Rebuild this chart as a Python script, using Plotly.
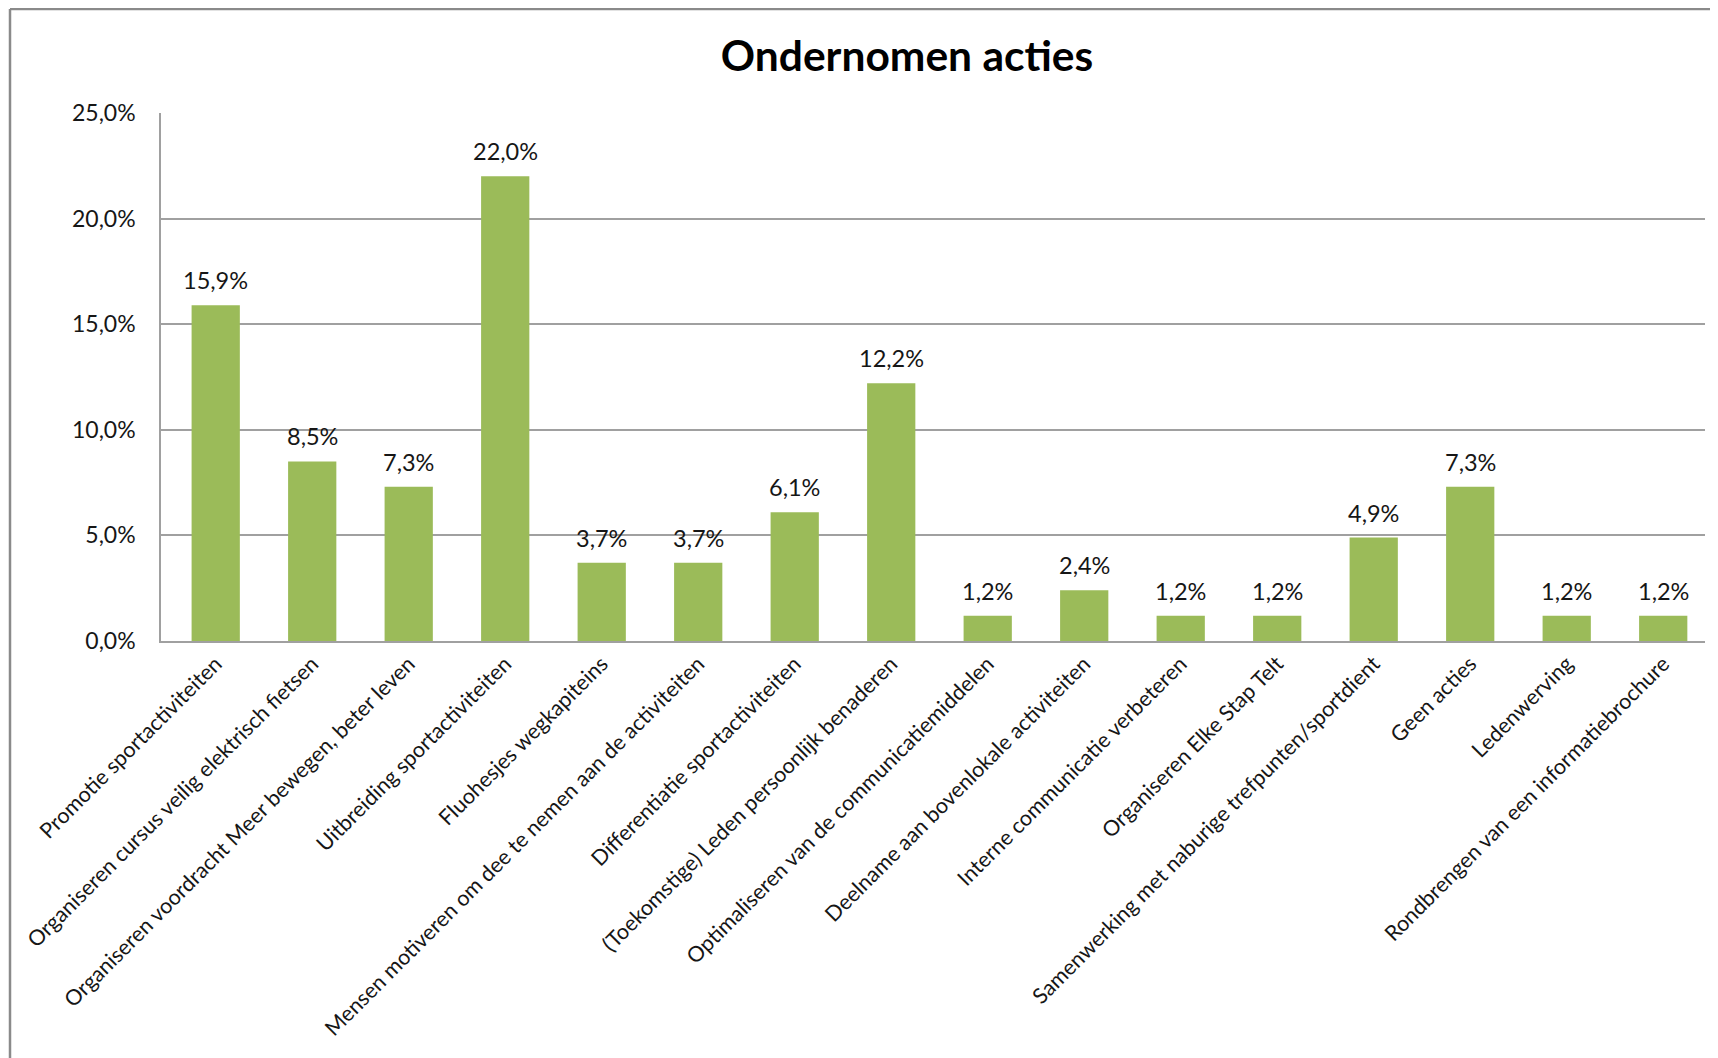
import plotly.graph_objects as go

categories = [
    "Promotie sportactiviteiten",
    "Organiseren cursus veilig elektrisch fietsen",
    "Organiseren voordracht Meer bewegen, beter leven",
    "Uitbreiding sportactiviteiten",
    "Fluohesjes wegkapiteins",
    "Mensen motiveren om dee te nemen aan de activiteiten",
    "Differentiatie sportactiviteiten",
    "(Toekomstige) Leden persoonlijk benaderen",
    "Optimaliseren van de communicatiemiddelen",
    "Deelname aan bovenlokale activiteiten",
    "Interne communicatie verbeteren",
    "Organiseren Elke Stap Telt",
    "Samenwerking met naburige trefpunten/sportdient",
    "Geen acties",
    "Ledenwerving",
    "Rondbrengen van een informatiebrochure",
]
values = [15.9, 8.5, 7.3, 22.0, 3.7, 3.7, 6.1, 12.2, 1.2, 2.4, 1.2, 1.2, 4.9, 7.3, 1.2, 1.2]
value_labels = [f"{v:.1f}%".replace(".", ",") for v in values]
y_ticks = [0, 5, 10, 15, 20, 25]
y_tick_labels = [f"{v:.1f}%".replace(".", ",") for v in y_ticks]

W, H = 1710, 1050
ml, mr, mt, mb = 153, 13, 105, 417
pw, ph = W - ml - mr, H - mt - mb

font_family = "Lato, 'Open Sans', sans-serif"
txt_color = "#161616"

fig = go.Figure(go.Bar(
    x=categories, y=values,
    marker=dict(color="#9BBB59", line=dict(width=0)),
    hoverinfo="x+y",
))

for c, v, t in zip(categories, values, value_labels):
    fig.add_annotation(x=c, y=v, text=t, showarrow=False, yanchor="bottom",
                       yshift=9, font=dict(size=23.5, color=txt_color, family=font_family))

fig.update_layout(
    width=W, height=H,
    margin=dict(l=ml, r=mr, t=mt, b=mb, autoexpand=False),
    paper_bgcolor="white", plot_bgcolor="white",
    bargap=0.50,
    showlegend=False,
    title=dict(text="<b>Ondernomen acties</b>", x=899 / W, xanchor="center",
               xref="container", y=1 - 48 / H, yanchor="middle", yref="container",
               font=dict(size=42.5, color="black", family=font_family)),
    font=dict(family=font_family, color=txt_color),
)
fig.update_yaxes(
    range=[0, 25], tickvals=y_ticks, ticktext=y_tick_labels,
    showgrid=True, gridcolor="#a0a0a0", gridwidth=1.5,
    showline=True, linecolor="#a0a0a0", linewidth=1.5,
    ticks="", ticklabelstandoff=19,
    tickfont=dict(size=23, color=txt_color),
    zeroline=False,
)
fig.update_xaxes(
    range=[-0.567, len(categories) - 0.567],
    showline=True, linecolor="#a0a0a0", linewidth=1.5,
    ticks="", tickangle=-45,
    tickfont=dict(size=21.5, color=txt_color),
)

# outer chart border (left and top visible)
x0 = (2 - ml) / pw
y1 = 1 + (mt - 1) / ph
fig.add_shape(type="line", xref="paper", yref="paper", x0=x0, x1=x0, y0=-2, y1=y1,
              line=dict(color="#8a8a8a", width=2.5))
fig.add_shape(type="line", xref="paper", yref="paper", x0=x0, x1=1.2, y0=y1, y1=y1,
              line=dict(color="#8a8a8a", width=2.5))

fig.write_html("out.html")
